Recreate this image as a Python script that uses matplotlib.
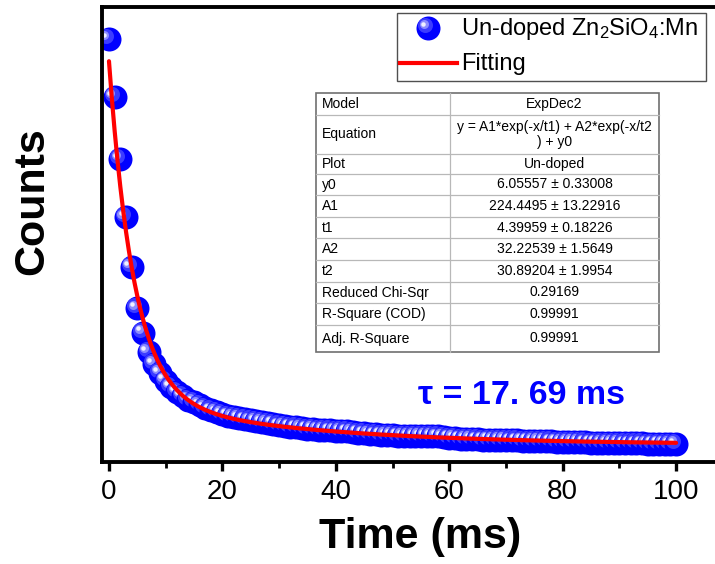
import numpy as np
import matplotlib
matplotlib.use("Agg")
import matplotlib.pyplot as plt
from matplotlib.transforms import offset_copy
from matplotlib.lines import Line2D
from matplotlib.patches import Rectangle

plt.rcParams['font.family'] = ['Liberation Sans', 'DejaVu Sans']
plt.rcParams['mathtext.default'] = 'regular'

# ---- measured decay (time in ms, counts in arb. units) ----
time_ms = list(range(0, 101))
counts = [
    277.5, 238.7, 197.2, 158.2, 125.1, 97.3, 81.0, 68.0, 60.0, 54.0,
    49.0, 44.5, 41.2, 38.5, 36.3, 34.5, 32.5, 30.5, 29.0, 27.8,
    26.6, 25.5, 24.6, 23.8, 23.0, 22.3, 21.8, 21.2, 20.6, 20.1,
    19.0, 18.6, 18.1, 17.7, 17.3, 16.8, 16.4, 16.1, 15.9, 15.7,
    15.5, 15.3, 15.0, 14.6, 14.1, 13.7, 13.3, 13.0, 12.8, 12.6,
    12.4, 12.2, 12.0, 11.9, 11.9, 12.0, 12.0, 11.9, 11.6, 11.2,
    10.8, 10.5, 10.2, 10.0, 9.8, 9.6, 9.5, 9.4, 9.3, 9.2,
    9.1, 9.0, 8.9, 8.8, 8.7, 8.6, 8.5, 8.4, 8.3, 8.2,
    8.0, 7.9, 7.8, 7.7, 7.6, 7.5, 7.4, 7.3, 7.2, 7.2,
    7.1, 7.0, 7.0, 6.9, 6.9, 6.8, 6.8, 6.7, 6.7, 6.6,
    6.6,
]

# ---- ExpDec2 fit parameters ----
y0 = 6.05557
A1, t1 = 224.4495, 4.39959
A2, t2 = 32.22539, 30.89204

x_ticks = [0, 20, 40, 60, 80, 100]
x_minor = [10, 30, 50, 70, 90]

table_keys = ["Model", "Equation", "Plot", "y0", "A1", "t1", "A2", "t2",
              "Reduced Chi-Sqr", "R-Square (COD)", "Adj. R-Square"]
table_vals = ["ExpDec2", "y = A1*exp(-x/t1) + A2*exp(-x/t2\n) + y0", "Un-doped",
              "6.05557 ± 0.33008", "224.4495 ± 13.22916", "4.39959 ± 0.18226",
              "32.22539 ± 1.5649", "30.89204 ± 1.9954", "0.29169",
              "0.99991", "0.99991"]

W, H = 715, 564
fig = plt.figure(figsize=(W / 100, H / 100), dpi=100)
fig.patch.set_facecolor('white')


def fx(px):
    return px / W


def fy(py):
    return 1 - py / H


ax = fig.add_axes([fx(102), fy(462), (722 - 102) / W, (462 - 7) / H])
ax.set_xlim(-1.23, 108.1)
ax.set_ylim(-5.5, 299)

# sphere-like markers: blue body with a lighter highlight toward the upper left
layers = [
    (24, '#0000ff', 0, 0),
    (15, '#3c3cff', -3.0, 3.0),
    (9, '#8c8cff', -4.5, 3.8),
    (4.5, '#f0f0ff', -5.2, 4.3),
]
layer_tr = [offset_copy(ax.transData, fig=fig, x=dx, y=dy, units='dots')
            for (_, _, dx, dy) in layers]
for xi, yi in zip(time_ms, counts):
    for (d, c, _, _), tr in zip(layers, layer_tr):
        ax.plot([xi], [yi], 'o', ms=d * 0.72, mfc=c, mec='none',
                transform=tr, zorder=2)

xf = np.linspace(0, 100, 600)
yf = A1 * np.exp(-xf / t1) + A2 * np.exp(-xf / t2) + y0
ax.plot(xf, yf, color='#ff0000', lw=3.0, zorder=3, solid_capstyle='round')

for side in ['left', 'bottom', 'top']:
    ax.spines[side].set_linewidth(2.8)
ax.spines['right'].set_visible(False)
ax.set_yticks([])
ax.set_xticks(x_ticks)
ax.set_xticks(x_minor, minor=True)
ax.tick_params(axis='x', which='major', direction='out', length=6.5, width=2.4,
               labelsize=20, pad=6)
ax.tick_params(axis='x', which='minor', direction='out', length=4, width=2.0)

fig.text(fx(420), fy(537), "Time (ms)", fontsize=31, fontweight='bold',
         ha='center', va='center')
fig.text(fx(32), fy(201), "Counts", fontsize=31, fontweight='bold',
         ha='center', va='center', rotation=90)

fig.text(fx(521), fy(395), "τ = 17. 69 ms", fontsize=24.5, fontweight='bold',
         color='#0000ff', ha='center', va='center')

# ---- legend box ----
fig.add_artist(Rectangle((fx(397), fy(81)), fx(706) - fx(397), fy(13) - fy(81),
                         transform=fig.transFigure, facecolor='white',
                         edgecolor='#505050', lw=1.0, zorder=5))
leg_tr = [offset_copy(fig.transFigure, fig=fig, x=dx, y=dy, units='dots')
          for (_, _, dx, dy) in layers]
for (d, c, _, _), tr in zip(layers, leg_tr):
    fig.add_artist(Line2D([fx(428)], [fy(28)], marker='o', ms=d * 0.72,
                          mfc=c, mec='none', ls='none', transform=tr, zorder=6))
fig.add_artist(Line2D([fx(400), fx(457)], [fy(63), fy(63)], color='#ff0000',
                      lw=3.0, transform=fig.transFigure, zorder=6))
fig.text(fx(461), fy(29), "Un-doped Zn$_2$SiO$_4$:Mn", fontsize=17,
         ha='left', va='center', zorder=7)
fig.text(fx(461), fy(64), "Fitting", fontsize=17, ha='left', va='center',
         zorder=7)

# ---- fit results table ----
tab_l, tab_m, tab_r = 316, 450, 659
rows = [93, 115, 154, 174, 195, 217, 238, 260, 282, 303, 325, 352]
fig.add_artist(Rectangle((fx(tab_l), fy(rows[-1])), fx(tab_r) - fx(tab_l),
                         fy(rows[0]) - fy(rows[-1]), transform=fig.transFigure,
                         facecolor='white', edgecolor='#707070', lw=1.2,
                         zorder=5))
for yb in rows[1:-1]:
    fig.add_artist(Line2D([fx(tab_l), fx(tab_r)], [fy(yb), fy(yb)],
                          color='#b8b8b8', lw=0.9, transform=fig.transFigure,
                          zorder=6))
fig.add_artist(Line2D([fx(tab_m), fx(tab_m)], [fy(rows[0]), fy(rows[-1])],
                      color='#b8b8b8', lw=0.9, transform=fig.transFigure,
                      zorder=6))
for i, (k, v) in enumerate(zip(table_keys, table_vals)):
    yc = (rows[i] + rows[i + 1]) / 2
    fig.text(fx(322), fy(yc), k, fontsize=10, ha='left', va='center', zorder=7)
    fig.text(fx((tab_m + tab_r) / 2), fy(yc), v, fontsize=10, ha='center',
             va='center', multialignment='center', linespacing=1.15, zorder=7)

fig.savefig("out.png", dpi=100)
